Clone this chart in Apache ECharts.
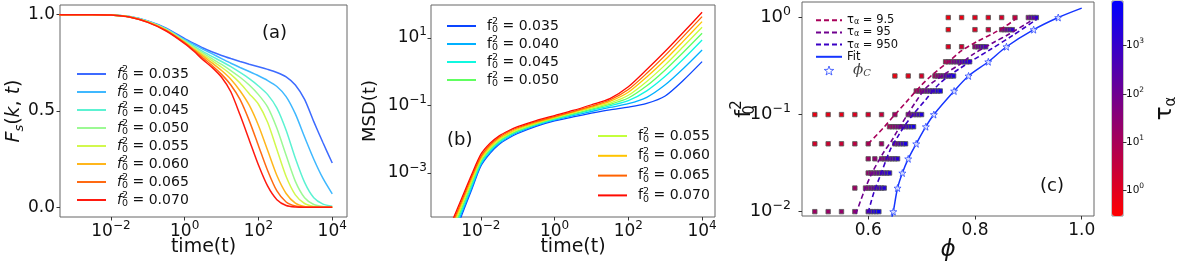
<!DOCTYPE html>
<html>
<head>
<meta charset="utf-8">
<script src="https://cdn.jsdelivr.net/npm/echarts@6.0.0/dist/echarts.min.js"></script>
<style>
html,body{margin:0;padding:0;background:#ffffff;}
#chart{width:1177px;height:266px;}
</style>
</head>
<body>
<div id="chart"></div>
<script>
// ---------------- DATA ----------------
const f0Labels = ['0.035','0.040','0.045','0.050','0.055','0.060','0.065','0.070'];

// Panel (a): self intermediate scattering function F_s(k,t)
const timeA = [4e-4,1e-3,3.16e-3,1e-2,3.16e-2,0.1,0.316,1,1.78,3.16,5.62,10,17.8,31.6,56.2,100,178,316,562,1000,1780,3160,5620,10000];
const fs035 = [1,1,1,0.998,0.99,0.967,0.93,0.876,0.851,0.827,0.806,0.788,0.772,0.757,0.743,0.73,0.716,0.70,0.677,0.635,0.56,0.445,0.335,0.23];
const fs040 = [1,1,1,0.998,0.99,0.966,0.927,0.87,0.845,0.82,0.796,0.772,0.748,0.726,0.705,0.683,0.658,0.627,0.575,0.485,0.365,0.25,0.15,0.07];
const fs045 = [1,1,1,0.998,0.989,0.965,0.925,0.866,0.836,0.808,0.782,0.757,0.73,0.70,0.668,0.63,0.585,0.515,0.40,0.255,0.13,0.05,0.017,0.006];
const fs050 = [1,1,1,0.998,0.989,0.964,0.923,0.862,0.83,0.80,0.77,0.742,0.71,0.675,0.635,0.585,0.52,0.41,0.27,0.135,0.05,0.015,0.004,0.001];
const fs055 = [1,1,1,0.998,0.989,0.963,0.921,0.859,0.825,0.792,0.76,0.727,0.69,0.645,0.59,0.535,0.44,0.30,0.16,0.065,0.02,0.005,0.001,0];
const fs060 = [1,1,1,0.998,0.988,0.962,0.919,0.856,0.82,0.785,0.748,0.71,0.665,0.605,0.53,0.425,0.295,0.165,0.072,0.022,0.005,0.001,0,0];
const fs065 = [1,1,1,0.998,0.988,0.961,0.917,0.853,0.815,0.775,0.735,0.69,0.635,0.56,0.45,0.32,0.19,0.085,0.028,0.007,0.001,0,0,0];
const fs070 = [1,1,1,0.998,0.988,0.96,0.915,0.85,0.81,0.765,0.725,0.675,0.60,0.48,0.35,0.22,0.11,0.04,0.01,0.002,0,0,0,0];

// Panel (b): mean squared displacement, stored as log10(MSD)
const timeB = [1e-3,1.78e-3,3.16e-3,5.62e-3,1e-2,1.78e-2,3.16e-2,5.62e-2,0.1,0.316,1,3.16,10,31.6,100,316,1000,3160,10000];
const logMsd035 = [-5.6,-4.95,-4.2,-3.5,-2.8,-2.42,-2.15,-1.97,-1.83,-1.62,-1.46,-1.34,-1.23,-1.13,-1.05,-0.94,-0.72,-0.25,0.294];
const logMsd040 = [-5.48,-4.83,-4.13,-3.45,-2.76,-2.38,-2.12,-1.94,-1.80,-1.59,-1.43,-1.30,-1.18,-1.06,-0.95,-0.76,-0.39,0.10,0.64];
const logMsd045 = [-5.38,-4.73,-4.06,-3.38,-2.71,-2.34,-2.08,-1.91,-1.77,-1.57,-1.41,-1.27,-1.14,-1.01,-0.86,-0.57,-0.14,0.38,0.936];
const logMsd050 = [-5.3,-4.65,-3.99,-3.31,-2.66,-2.30,-2.05,-1.88,-1.75,-1.55,-1.39,-1.25,-1.11,-0.97,-0.78,-0.42,0.05,0.58,1.133];
const logMsd055 = [-5.22,-4.57,-3.92,-3.25,-2.62,-2.26,-2.02,-1.85,-1.72,-1.53,-1.37,-1.22,-1.08,-0.93,-0.70,-0.29,0.20,0.75,1.311];
const logMsd060 = [-5.15,-4.5,-3.85,-3.18,-2.57,-2.22,-1.98,-1.82,-1.69,-1.51,-1.35,-1.20,-1.05,-0.88,-0.61,-0.16,0.35,0.91,1.479];
const logMsd065 = [-5.08,-4.43,-3.78,-3.12,-2.52,-2.17,-1.94,-1.78,-1.66,-1.48,-1.33,-1.18,-1.02,-0.84,-0.53,-0.05,0.48,1.05,1.627];
const logMsd070 = [-5.0,-4.35,-3.7,-3.05,-2.45,-2.12,-1.90,-1.75,-1.63,-1.45,-1.30,-1.15,-0.98,-0.80,-0.45,0.06,0.60,1.17,1.756];

// Panel (c): state points (phi, f0^2) coloured by tau_alpha
const rowF = [1.0,0.75,0.5,0.35,0.25,0.175,0.1,0.075,0.05,0.035,0.025,0.0175,0.01];
const rowPhi = [
  [0.75,0.775,0.8,0.825,0.85,0.875,0.9,0.905,0.91,0.915],
  [0.75,0.8,0.825,0.85,0.855,0.86,0.865,0.87],
  [0.75,0.775,0.8,0.805,0.81,0.815,0.82],
  [0.745,0.75,0.755,0.76,0.765,0.77,0.775,0.78,0.785,0.79],
  [0.65,0.675,0.7,0.725,0.73,0.735,0.74,0.745,0.75,0.755,0.76],
  [0.69,0.695,0.7,0.705,0.71,0.715,0.72,0.725,0.73,0.735],
  [0.5,0.525,0.55,0.575,0.6,0.625,0.65,0.675,0.68,0.685,0.69,0.695,0.7],
  [0.64,0.645,0.65,0.655,0.66,0.665,0.67,0.675,0.68,0.685],
  [0.5,0.525,0.55,0.575,0.6,0.625,0.65,0.655,0.66,0.665,0.67],
  [0.6,0.6125,0.625,0.63,0.635,0.64,0.645,0.65,0.655],
  [0.6,0.605,0.61,0.615,0.62,0.625,0.63,0.635,0.64],
  [0.575,0.595,0.6,0.605,0.61,0.615,0.62,0.625,0.63],
  [0.5,0.525,0.55,0.575,0.6,0.605,0.61,0.615,0.62]
];
const rowTau = [
  [0.5,0.6,0.8,1.0,1.5,3,60,150,400,1200],
  [0.6,1.2,2.5,20,50,120,300,800],
  [1,2,30,70,150,350,800],
  [8,15,30,60,100,200,400,800,1500,3000],
  [0.5,0.8,1.5,15,30,60,120,250,500,1000,2500],
  [10,20,40,70,130,250,500,1000,2000,4000],
  [0.6,0.7,0.8,1,1.5,3,15,40,80,160,350,800,2000],
  [10,20,35,60,100,180,350,700,1500,3000],
  [1.5,2,2.5,4,8,15,60,150,400,1000,3000],
  [15,25,35,60,100,180,350,700,1500],
  [20,35,60,100,180,320,600,1000,2000],
  [15,25,45,80,150,300,550,1000,2000],
  [15,18,22,30,300,700,1500,3000,5000]
];
const phiC = [0.647,0.655,0.664,0.675,0.69,0.708,0.723,0.761,0.788,0.825,0.859,0.91,0.956];
const f0C  = [0.01,0.0175,0.025,0.035,0.05,0.075,0.1,0.175,0.25,0.35,0.5,0.75,1.0];
const fitPhi = [0.6445,0.647,0.655,0.664,0.675,0.69,0.708,0.723,0.761,0.788,0.825,0.859,0.91,0.956,1.0];
const fitF   = [0.0088,0.01,0.0175,0.025,0.035,0.05,0.075,0.1,0.175,0.25,0.35,0.5,0.75,1.0,1.25];
const iso9Phi = [0.6,0.628,0.647,0.672,0.697,0.722,0.747,0.775,0.805,0.835,0.858,0.878];
const iso9F   = [0.05,0.0725,0.0955,0.136,0.194,0.263,0.338,0.455,0.57,0.69,0.82,0.98];
const iso95Phi = [0.577,0.592,0.607,0.628,0.645,0.656,0.689,0.709,0.747,0.772,0.797,0.834,0.865,0.897,0.913];
const iso95F   = [0.0095,0.016,0.025,0.04,0.055,0.07,0.135,0.19,0.27,0.33,0.42,0.55,0.68,0.87,1.0];
const iso950Phi = [0.6,0.611,0.622,0.641,0.656,0.667,0.684,0.709,0.734,0.772,0.828,0.872,0.916];
const iso950F   = [0.0098,0.016,0.023,0.043,0.06,0.075,0.1,0.145,0.21,0.30,0.465,0.66,0.96];

// tick values (log10 exponents / linear)
const ticksA_x = [-2,0,2,4];
const ticksA_y = [0,0.5,1];
const ticksB_x = [-2,0,2,4];
const ticksB_y = [-3,-1,1];
const ticksC_x = [0.6,0.8,1.0];
const ticksC_y = [-2,-1,0];
const ticksBar = [0,1,2,3];

// ---------------- STYLE ----------------
const FONT = 'DejaVu Sans';
const colorsA = ['#3d6bff','#3fb8ff','#5cf2d2','#9cf993','#d2f84e','#ffb61c','#ff6a12','#ff1a0f'];
const colorsB = ['#0a45ff','#00b0ff','#10f8e0','#60ff60','#c4ff3c','#ffc400','#ff6200','#ff0a00'];
const frame = '#666';
const L = Math.log10;

function expFmt(v){ const e = Math.round(v); return '{b|10}{e|' + (e < 0 ? '\u2212' + (-e) : String(e)) + '}'; }
function expRich(s, es){ return {
  b:{fontFamily:FONT,fontSize:s,color:'#111',lineHeight:s+6},
  e:{fontFamily:FONT,fontSize:es,color:'#111',lineHeight:es,verticalAlign:'top'} }; }

function f0Rich(italic, fs, ss, pad){ return {
  f:{fontFamily:FONT,fontStyle:italic?'italic':'normal',fontSize:fs,color:'#111',lineHeight:18,padding:[0,0,0,pad]},
  sb:{fontFamily:FONT,fontSize:ss,color:'#111',lineHeight:9,verticalAlign:'bottom',width:0.1},
  sp:{fontFamily:FONT,fontSize:ss,color:'#111',lineHeight:9,verticalAlign:'top'},
  t:{fontFamily:FONT,fontSize:fs,color:'#111',lineHeight:18} }; }

const tickStyle = {show:true,length:3.5,inside:false,lineStyle:{color:'#333',width:1}};

function xAx(gi,min,max,ticks,fmt,rich,name,nameStyle,gap,margin){
  return {type:'value',gridIndex:gi,min:min,max:max,
    axisLine:{show:false,onZero:false},splitLine:{show:false},minorTick:{show:false},minorSplitLine:{show:false},
    axisTick:Object.assign({customValues:ticks},tickStyle),
    axisLabel:{customValues:ticks,formatter:fmt,rich:rich,margin:margin,fontFamily:FONT,fontSize:17,color:'#111'},
    name:name,nameLocation:'middle',nameGap:gap,nameMoveOverlap:false,nameTextStyle:nameStyle};
}
function yAx(gi,min,max,ticks,fmt,rich,name,nameStyle,gap,margin){
  return {type:'value',gridIndex:gi,min:min,max:max,
    axisLine:{show:false,onZero:false},splitLine:{show:false},minorTick:{show:false},minorSplitLine:{show:false},
    axisTick:Object.assign({customValues:ticks},tickStyle),
    axisLabel:{customValues:ticks,formatter:fmt,rich:rich,margin:margin,fontFamily:FONT,fontSize:17,color:'#111'},
    name:name,nameLocation:'middle',nameRotate:90,nameGap:gap,nameMoveOverlap:false,nameTextStyle:nameStyle};
}

const gridBase = {show:true,borderColor:frame,borderWidth:1,backgroundColor:'transparent',containLabel:false,outerBoundsMode:'none'};

// ---------------- SERIES ----------------
const series = [];
const fsSets = [fs035,fs040,fs045,fs050,fs055,fs060,fs065,fs070];
fsSets.forEach((ys,i)=>{
  series.push({type:'line',name:'a'+f0Labels[i],xAxisIndex:0,yAxisIndex:0,
    data:timeA.map((t,j)=>[L(t),ys[j]]),symbol:'none',showSymbol:false,smooth:0.25,
    lineStyle:{width:1.5,color:colorsA[i]},itemStyle:{color:colorsA[i]},z:2});
});
const msdSets = [logMsd035,logMsd040,logMsd045,logMsd050,logMsd055,logMsd060,logMsd065,logMsd070];
msdSets.forEach((ys,i)=>{
  series.push({type:'line',name:'b'+f0Labels[i],xAxisIndex:1,yAxisIndex:1,
    data:timeB.map((t,j)=>[L(t),ys[j]]),symbol:'none',showSymbol:false,smooth:0.25,
    lineStyle:{width:1.3,color:colorsB[i]},itemStyle:{color:colorsB[i]},z:2});
});
const sqData = [];
rowF.forEach((f,i)=>{ rowPhi[i].forEach((p,j)=>{ sqData.push([p,L(f),L(rowTau[i][j])]); }); });
const sqIndex = series.length;
series.push({type:'scatter',name:'points',xAxisIndex:2,yAxisIndex:2,data:sqData,symbol:'rect',symbolSize:4.4,
  itemStyle:{borderColor:'rgba(90,90,90,0.85)',borderWidth:1,opacity:1},z:2});

const tauCol = ['#a8005a','#70008f','#3a00c5'];
function iso(name,ph,ff,col){
  series.push({type:'line',name:name,xAxisIndex:2,yAxisIndex:2,data:ph.map((p,j)=>[p,L(ff[j])]),
    symbol:'none',showSymbol:false,smooth:0.3,lineStyle:{width:1.6,color:col,type:[5,3]},itemStyle:{color:col},z:3});
}
iso('tau9.5',iso9Phi,iso9F,tauCol[0]);
iso('tau95',iso95Phi,iso95F,tauCol[1]);
iso('tau950',iso950Phi,iso950F,tauCol[2]);
series.push({type:'line',name:'Fit',xAxisIndex:2,yAxisIndex:2,data:fitPhi.map((p,j)=>[p,L(fitF[j])]),
  symbol:'none',showSymbol:false,smooth:0.3,lineStyle:{width:1.5,color:'#1535ff'},itemStyle:{color:'#1535ff'},z:3});
const STAR = 'path://M0,-10L2.35,-3.24L9.51,-3.09L3.8,1.24L5.88,8.09L0,4L-5.88,8.09L-3.8,1.24L-9.51,-3.09L-2.35,-3.24Z';
series.push({type:'scatter',name:'phiC',xAxisIndex:2,yAxisIndex:2,data:phiC.map((p,j)=>[p,L(f0C[j])]),
  symbol:STAR,symbolSize:7,itemStyle:{color:'#ffffff',borderColor:'#2a48ff',borderWidth:1},z:4});

// ---------------- LEGENDS ----------------
const hideSym = {color:'rgba(0,0,0,0)',borderColor:'rgba(0,0,0,0)',borderWidth:0};
const fmtF0 = n=>'{f|f}{sb|0}{sp|2}{t| = '+n.slice(1)+'}';
const legA = {data:f0Labels.map(s=>'a'+s),left:71,top:60,orient:'vertical',itemWidth:29,itemHeight:10,itemGap:0,
  selectedMode:false,formatter:fmtF0,itemStyle:hideSym,textStyle:{rich:f0Rich(true,14,9.5,6)}};
const legB1 = {data:f0Labels.slice(0,4).map(s=>'b'+s),left:441,top:12,orient:'vertical',itemWidth:29,itemHeight:10,itemGap:0,
  selectedMode:false,formatter:fmtF0,itemStyle:hideSym,textStyle:{rich:f0Rich(false,14,9.5,6)}};
const legB2 = {data:f0Labels.slice(4).map(s=>'b'+s),left:592,top:122,orient:'vertical',itemWidth:29,itemHeight:10,itemGap:1.8,
  selectedMode:false,formatter:fmtF0,itemStyle:hideSym,textStyle:{rich:f0Rich(false,14,9.5,6)}};
const legCnames = {'tau9.5':'{t|\u03c4}{s|\u03b1}{r| = 9.5}','tau95':'{t|\u03c4}{s|\u03b1}{r| = 95}','tau950':'{t|\u03c4}{s|\u03b1}{r| = 950}','Fit':'{r|Fit}','phiC':'{p|\u03d5}{c|C}'};
const legC = {data:['tau9.5','tau95','tau950','Fit',{name:'phiC',itemStyle:{color:'#ffffff',borderColor:'#2a48ff',borderWidth:1}}],
  left:810,top:9.2,orient:'vertical',itemWidth:26,itemHeight:9,itemGap:0.2,
  selectedMode:false,formatter:n=>legCnames[n],itemStyle:hideSym,
  textStyle:{rich:{
    t:{fontFamily:FONT,fontSize:11.5,color:'#111',lineHeight:11.5},
    s:{fontFamily:FONT,fontSize:8,color:'#111',lineHeight:6,verticalAlign:'bottom'},
    r:{fontFamily:FONT,fontSize:11.5,color:'#111',lineHeight:11.5},
    p:{fontFamily:'DejaVu Serif',fontStyle:'italic',fontSize:15,color:'#444',lineHeight:15,padding:[0,0,0,6]},
    c:{fontFamily:'DejaVu Serif',fontStyle:'italic',fontSize:10,color:'#444',lineHeight:8,verticalAlign:'bottom'}}}};

// ---------------- AXES ----------------
const nameFont = {fontFamily:FONT,fontSize:19,color:'#111'};
const xAxes = [
  xAx(0,-3.38,4.4,ticksA_x,expFmt,expRich(17,12),'time(t)',nameFont,21,3),
  xAx(1,-3.35,4.35,ticksB_x,expFmt,expRich(17,12),'time(t)',nameFont,21,3),
  xAx(2,0.476,1.023,ticksC_x,v=>v.toFixed(1),null,'\u03d5',{fontFamily:FONT,fontStyle:'italic',fontSize:23,color:'#111'},23,6),
  {type:'value',gridIndex:3,min:0,max:1,show:false}
];
const yAxes = [
  yAx(0,-0.05,1.05,ticksA_y,v=>v.toFixed(1),null,'{F|F}{s|s}{r|(}{i|k}{r|, }{i|t}{r|)}',
      {rich:{F:{fontFamily:FONT,fontStyle:'italic',fontSize:19,color:'#111',lineHeight:24},
             s:{fontFamily:FONT,fontStyle:'italic',fontSize:13,color:'#111',lineHeight:12,verticalAlign:'bottom'},
             r:{fontFamily:FONT,fontSize:19,color:'#111',lineHeight:24},
             i:{fontFamily:FONT,fontStyle:'italic',fontSize:19,color:'#111',lineHeight:24}}},34,5),
  yAx(1,-4.3,1.97,ticksB_y,expFmt,expRich(17,12),'MSD(t)',{fontFamily:FONT,fontSize:18,color:'#111'},52,4),
  yAx(2,-2.045,0.16,ticksC_y,expFmt,expRich(18,12.5),'{f|f}{sb|0}{sp|2}',
      {rich:{f:{fontFamily:FONT,fontSize:22,color:'#111',lineHeight:28},
             sb:{fontFamily:FONT,fontSize:15,color:'#111',lineHeight:14,verticalAlign:'bottom',width:0.1},
             sp:{fontFamily:FONT,fontSize:15,color:'#111',lineHeight:14,verticalAlign:'top'}}},44,11),
  Object.assign(yAx(3,-0.54,3.93,ticksBar,expFmt,expRich(10.5,7.5),'{t|\u03c4}{s|\u03b1}',
      {rich:{t:{fontFamily:FONT,fontSize:23,color:'#111',lineHeight:28},
             s:{fontFamily:FONT,fontSize:15,color:'#111',lineHeight:14,verticalAlign:'bottom'}}},28,3),{position:'right'})
];

const option = {
  animation:false,
  backgroundColor:'#ffffff',
  grid:[
    Object.assign({left:60,top:5,width:287,height:212},gridBase),
    Object.assign({left:431,top:5,width:284,height:212},gridBase),
    Object.assign({left:802,top:2,width:292,height:214},gridBase),
    Object.assign({},gridBase,{left:1112,top:1,width:11,height:215,borderColor:'#888'})
  ],
  xAxis:xAxes,
  yAxis:yAxes,
  visualMap:[{type:'continuous',show:true,seriesIndex:sqIndex,dimension:2,min:-0.54,max:3.93,
    inRange:{color:['#ff0000','#0000ff']},calculable:false,orient:'vertical',left:1112,top:1,
    itemWidth:11,itemHeight:215,padding:0,hoverLink:false,textStyle:{color:'transparent'}}],
  legend:[legA,legB1,legB2,legC],
  graphic:[
    {id:'ta',type:'text',left:262,top:24,style:{text:'(a)',font:'18px "DejaVu Sans"',fill:'#111'}},
    {id:'tb',type:'text',left:447,top:131,style:{text:'(b)',font:'18px "DejaVu Sans"',fill:'#111'}},
    {id:'tc',type:'text',left:1040,top:177,style:{text:'(c)',font:'18px "DejaVu Sans"',fill:'#111'}}
  ],
  series:series
};
const chart = echarts.init(document.getElementById('chart'),null,{renderer:'canvas'});
chart.setOption(option);
</script>
</body>
</html>
